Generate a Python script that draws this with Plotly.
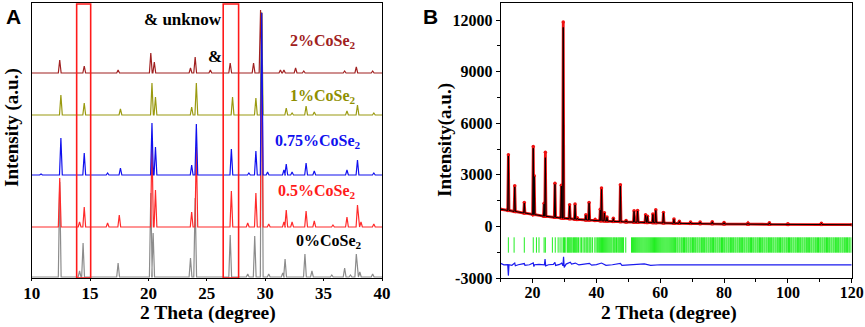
import plotly.graph_objects as go

# ---------------- Panel A data (peak position in degree, peak height in a.u.) ----------------
a_offsets = {"0%": 1, "0.5%": 51, "0.75%": 103, "1%": 163, "2%": 205}

p0_pos = [12.4, 14.1, 14.4, 17.4, 20.2, 20.4, 23.6, 24.0, 27.0, 28.5, 29.1, 29.7, 30.3, 31.5, 31.7, 33.4, 34.0, 35.7, 36.8, 37.3, 37.8, 38.1, 39.2]
p0_h = [95, 6, 34, 14, 84, 44, 19, 79, 42, 3, 41, 265, 3, 4, 18, 23, 6, 2, 9, 2, 23, 5, 3]

p05_pos = [12.4, 14.1, 14.5, 16.5, 17.5, 20.3, 20.6, 23.7, 24.1, 27.1, 28.5, 29.2, 29.7, 30.3, 31.6, 31.8, 32.3, 33.5, 34.2, 35.8, 37.0, 37.9, 38.2, 39.3]
p05_h = [49, 5, 20, 4, 12, 85, 37, 15, 80, 36, 4, 34, 214, 3, 5, 17, 5, 16, 6, 2, 10, 22, 5, 3]

p075_pos = [10.8, 12.5, 14.5, 16.5, 17.6, 20.3, 20.6, 23.7, 24.1, 27.1, 28.6, 29.2, 29.7, 30.2, 31.6, 31.8, 32.3, 33.5, 34.2, 37.0, 37.9, 39.3]
p075_h = [1, 37, 22, 2, 7, 52, 28, 10, 51, 26, 2, 24, 162, 3, 5, 11, 3, 12, 4, 5, 15, 2]

p1_pos = [12.5, 14.5, 17.6, 20.3, 20.6, 23.7, 24.1, 27.2, 29.2, 29.7, 31.8, 32.3, 33.5, 34.2, 37.0, 37.9, 39.3]
p1_h = [20, 12, 6, 32, 18, 8, 32, 18, 17, 102, 7, 2, 9, 3, 4, 10, 2]

p2_pos = [12.4, 14.5, 17.4, 20.2, 20.5, 23.6, 24.0, 25.3, 27.0, 29.0, 29.6, 31.3, 31.6, 32.6, 33.3, 36.8, 37.8, 39.2]
p2_h = [13, 7, 3, 20, 11, 5, 16, 3, 10, 10, 63, 3, 3, 5, 2, 2, 6, 2]

a_labels = ["0%CoSe<sub>2</sub>", "0.5%CoSe<sub>2</sub>", "0.75%CoSe<sub>2</sub>", "1%CoSe<sub>2</sub>", "2%CoSe<sub>2</sub>"]
a_xticks = [10, 15, 20, 25, 30, 35, 40]
box_ranges = [(13.85, 15.05), (26.4, 27.72)]

# ---------------- Panel B data ----------------
b_pos = [12.4, 14.4, 17.4, 20.2, 20.5, 23.6, 24.0, 27.0, 29.0, 29.6, 31.6, 33.3, 34.0, 36.7, 37.7, 39.6,
         41.2, 41.6, 42.5, 43.3, 45.3, 47.5, 49.3, 51.8, 52.9, 55.4, 56.0, 57.7, 58.6, 61.0, 64.3, 66.0,
         69.5, 72.5, 76.3, 80.0, 87.5, 94.2, 100.0, 110.5]
b_obs = [4170, 2370, 1400, 4650, 2950, 1350, 4320, 2520, 2400, 11900, 1260, 1300, 500, 680, 1400, 400,
         1000, 2230, 800, 550, 480, 2420, 350, 910, 930, 680, 600, 730, 970, 816, 430, 300,
         260, 260, 280, 230, 190, 220, 160, 190]
b_calc = [4100, 2300, 1350, 4550, 2900, 1300, 4000, 2450, 2350, 11580, 1200, 1250, 480, 650, 1350, 380,
          950, 2150, 780, 530, 460, 2350, 340, 880, 900, 650, 580, 700, 930, 790, 410, 290,
          250, 250, 270, 220, 185, 210, 155, 180]
b_base = [930, 870, 780, 700, 690, 600, 590, 530, 490, 480, 450, 420, 410, 380, 370, 350,
          330, 330, 320, 310, 290, 280, 260, 250, 245, 230, 225, 220, 215, 200, 185, 180,
          165, 160, 150, 140, 130, 125, 120, 110]
b_ends_x = [10, 120]
b_ends_y = [1000, 100]

diff_x = [10, 11, 12.2, 12.4, 12.6, 13.5, 14.4, 14.6, 15.5, 17.4, 17.6, 19, 20.2, 20.4, 20.6, 22, 23.7, 23.9,
          24.1, 25, 26.5, 27.0, 27.2, 28.5, 29.1, 29.5, 29.7, 29.9, 30.5, 31.5, 31.8, 32.2, 33.4, 34.5, 36,
          37.8, 38.5, 40, 41.6, 43, 45, 47.5, 48, 50, 52, 55, 57, 60, 65, 70, 80, 90, 100, 110, 120]
diff_y = [-2150, -2230, -2220, -2860, -2230, -2260, -2130, -2290, -2230, -2160, -2260, -2230, -2120, -2340,
          -2230, -2210, -2230, -1900, -2290, -2230, -2210, -2090, -2270, -2210, -2130, -2290, -1760, -2380,
          -2190, -2130, -2080, -2190, -2130, -2240, -2210, -2150, -2250, -2220, -2130, -2260, -2230, -2150,
          -2270, -2240, -2220, -2180, -2260, -2230, -2240, -2240, -2240, -2240, -2240, -2240, -2240]

bragg_pos = [
    12.4, 14.2, 17.4, 20.2, 21.2, 22.0, 23.6, 24.0, 26.2, 27.1, 28.0, 28.6, 29.2, 29.7,
    30.0, 30.4, 30.9, 31.2, 31.5, 31.8, 32.1, 32.4, 32.8, 33.1, 33.4, 33.7, 34.0, 34.4, 34.9,
    35.3, 35.8, 36.2, 36.7, 37.0, 37.3, 37.7, 38.0, 38.3, 38.8, 39.5, 39.9, 40.3, 40.7, 41.0,
    41.3, 41.6, 41.9, 42.2, 42.5, 42.8, 43.1, 43.4, 43.7, 44.0, 44.3, 44.6, 44.9, 45.3, 45.6,
    45.9, 46.3, 46.7, 47.0, 47.3, 47.6, 47.9, 48.2, 48.5, 49.2, 51.0, 51.3, 51.6, 51.9, 52.2,
    52.5, 52.8, 53.1, 53.4, 53.7, 54.0, 54.3, 54.6, 54.9, 55.2, 55.5, 55.8, 56.1, 56.4, 56.7,
    57.0, 57.3, 57.6, 57.9, 58.2, 58.5, 58.8, 59.1, 59.4, 59.7, 60.0, 60.3, 60.6, 60.9, 61.2,
    61.5, 61.8, 62.1, 62.4, 62.7, 63.0, 63.3, 63.6, 63.9, 64.2, 64.5, 64.8, 65.2, 65.5, 65.9,
    66.2, 66.6, 66.9, 67.3, 67.6, 68.0, 68.3, 68.7, 69.0, 69.4, 69.7, 70.1, 70.4, 70.8, 71.1,
    71.5, 71.8, 72.2, 72.5, 72.9, 73.2, 73.6, 73.9, 74.3, 74.6, 75.0, 75.3, 75.7, 76.0, 76.4,
    76.7, 77.1, 77.4, 77.8, 78.1, 78.5, 78.8, 79.2, 79.5, 79.9, 80.2, 80.6, 80.9, 81.3, 81.6,
    82.0, 82.3, 82.7, 83.0, 83.4, 83.7, 84.1, 84.4, 84.8, 85.1, 85.5, 85.8, 86.2, 86.5, 86.9,
    87.2, 87.6, 87.9, 88.3, 88.6, 89.0, 89.3, 89.7, 90.0, 90.4, 90.7, 91.1, 91.4, 91.8, 92.1,
    92.5, 92.8, 93.2, 93.5, 93.9, 94.2, 94.6, 94.9, 95.3, 95.6, 96.0, 96.3, 96.7, 97.0, 97.4,
    97.7, 98.1, 98.4, 98.8, 99.1, 99.5, 99.8, 100.2, 100.5, 100.9, 101.2, 101.6, 101.9, 102.3,
    102.6, 103.0, 103.3, 103.7, 104.0, 104.4, 104.7, 105.1, 105.4, 105.8, 106.1, 106.5, 106.8,
    107.2, 107.5, 107.9, 108.2, 108.6, 108.9, 109.3, 109.6, 110.0, 110.3, 110.7, 111.0, 111.4,
    111.7, 112.1, 112.4, 112.8, 113.1, 113.5, 113.8, 114.2, 114.5, 114.9, 115.2, 115.6, 115.9,
    116.3, 116.6, 117.0, 117.3, 117.7, 118.0, 118.4, 118.7, 119.1, 119.4, 119.8]
bragg_level = -1080

b_yticks = [-3000, 0, 3000, 6000, 9000, 12000]
b_ytext = ["-3000", "0", "3000", "6000", "9000", "12000"]
b_xticks = [20, 40, 60, 80, 100, 120]

SERIF = "Liberation Serif"


def spikes(pos, heights, base, hw, x0, x1):
    xs, ys = [x0], [base]
    for p, h in zip(pos, heights):
        xs += [p - hw, p, p + hw]
        ys += [base, base + h, base]
    xs.append(x1)
    ys.append(base)
    return xs, ys


def spikes_b(pos, tops, bases, hw):
    xs, ys = [b_ends_x[0]], [b_ends_y[0]]
    for p, t, b in zip(pos, tops, bases):
        xs += [p - hw, p, p + hw]
        ys += [b, t, b]
    xs.append(b_ends_x[1])
    ys.append(b_ends_y[1])
    return xs, ys


fig = go.Figure()

series = [
    ("0%", p0_pos, p0_h, "#8c8c8c"),
    ("0.5%", p05_pos, p05_h, "#ff2a2a"),
    ("1%", p1_pos, p1_h, "#9a9a10"),
    ("2%", p2_pos, p2_h, "#a02020"),
    ("0.75%", p075_pos, p075_h, "#1010ee"),
]
for name, pos, h, col in series:
    xs, ys = spikes(pos, h, a_offsets[name], 0.12, 10, 40)
    fig.add_trace(go.Scatter(x=xs, y=ys, mode="lines", line=dict(color=col, width=1.2),
                             xaxis="x", yaxis="y", hoverinfo="skip"))

# Panel B traces
ox, oy = spikes_b(b_pos, b_obs, b_base, 0.2)
cx, cy = spikes_b(b_pos, b_calc, b_base, 0.2)
fig.add_trace(go.Scatter(x=ox, y=oy, mode="lines+markers", line=dict(color="#ee1111", width=2.8),
                         marker=dict(color="#ee1111", size=3.5), xaxis="x2", yaxis="y2"))
fig.add_trace(go.Scatter(x=cx, y=cy, mode="lines", line=dict(color="black", width=1),
                         xaxis="x2", yaxis="y2"))
fig.add_trace(go.Scatter(x=bragg_pos, y=[bragg_level] * len(bragg_pos), mode="markers",
                         marker=dict(symbol="line-ns", size=11, line=dict(color="#22ee22", width=1)),
                         xaxis="x2", yaxis="y2"))
fig.add_trace(go.Scatter(x=diff_x, y=diff_y, mode="lines", line=dict(color="#1a1aee", width=1.2),
                         xaxis="x2", yaxis="y2"))

# red boxes in panel A
for x0, x1 in box_ranges:
    fig.add_shape(type="rect", xref="x", yref="y", x0=x0, x1=x1, y0=0, y1=274,
                  line=dict(color="#ff1a1a", width=1.6))

bold = dict(family=SERIF, color="black", weight="bold")

# series labels
lab_cfg = [
    (a_labels[0], 35.5, 36, "black"),
    (a_labels[1], 34.4, 86, "#ff1a1a"),
    (a_labels[2], 34.5, 136, "#1010ee"),
    (a_labels[3], 34.94, 181, "#8f8f00"),
    (a_labels[4], 34.94, 236, "#a02020"),
]
for txt, x, y, col in lab_cfg:
    fig.add_annotation(x=x, y=y, xref="x", yref="y", text="<b>" + txt + "</b>", showarrow=False,
                       xanchor="center", yanchor="middle",
                       font=dict(family=SERIF, size=16, color=col))

fig.add_annotation(x=22.95, y=258, xref="x", yref="y", text="<b>& unknow</b>", showarrow=False,
                   xanchor="center", yanchor="middle", font=dict(family=SERIF, size=17, color="black"))
fig.add_annotation(x=25.7, y=221, xref="x", yref="y", text="<b>&</b>", showarrow=False,
                   xanchor="center", yanchor="middle", font=dict(family=SERIF, size=17, color="black"))

# axis titles and panel letters
W, H = 865, 327
paper_txt = [
    ("<b>2 Theta (degree)</b>", 208, 313, 0, SERIF, 19.5),
    ("<b>2 Theta (degree)</b>", 669, 313, 0, SERIF, 19.5),
    ("<b>Intensity (a.u.)</b>", 12, 128, -90, SERIF, 19),
    ("<b>Intensity(a.u.)</b>", 445, 140, -90, SERIF, 19),
    ("<b>A</b>", 13, 17, 0, "Liberation Sans", 21),
    ("<b>B</b>", 430, 17, 0, "Liberation Sans", 21),
]
for txt, px, py, ang, fam, sz in paper_txt:
    fig.add_annotation(x=px / W, y=1 - py / H, xref="paper", yref="paper", text=txt, showarrow=False,
                       textangle=ang, xanchor="center", yanchor="middle",
                       font=dict(family=fam, size=sz, color="black"))

ydom = [49 / H, 324 / H]
axis_common = dict(showline=True, mirror=True, linecolor="black", linewidth=1.2, showgrid=False,
                   zeroline=False, automargin=False)

fig.update_layout(
    template="none",
    width=W, height=H, margin=dict(l=0, r=0, t=0, b=0, pad=0),
    paper_bgcolor="white", plot_bgcolor="white", showlegend=False,
    xaxis=dict(domain=[31.7 / W, 382 / W], range=[10, 40], tickvals=a_xticks, ticks="outside",
               ticklen=2, tickcolor="black", tickfont=dict(size=17, **bold), anchor="y",
               ticklabelstandoff=-3, **axis_common),
    yaxis=dict(domain=ydom, range=[0, 275], showticklabels=False, ticks="", anchor="x", **axis_common),
    xaxis2=dict(domain=[500.7 / W, 851.7 / W], range=[10, 120], tickvals=b_xticks, ticks="outside",
                ticklen=4, tickcolor="black", tickfont=dict(size=16, **bold), anchor="y2",
                ticklabelstandoff=-4,
                minor=dict(dtick=10, tick0=0, ticks="outside", ticklen=2.5, tickcolor="black"),
                **axis_common),
    yaxis2=dict(domain=ydom, range=[-3000, 13000], tickvals=b_yticks, ticktext=b_ytext, ticks="outside",
                ticklen=4, tickcolor="black", tickfont=dict(size=16, **bold), anchor="x2",
                minor=dict(dtick=1500, tick0=0, ticks="outside", ticklen=2.5, tickcolor="black"),
                **axis_common),
)

fig.write_html("out.html", post_script="document.body.style.margin='0';",
               config={"displayModeBar": False})
